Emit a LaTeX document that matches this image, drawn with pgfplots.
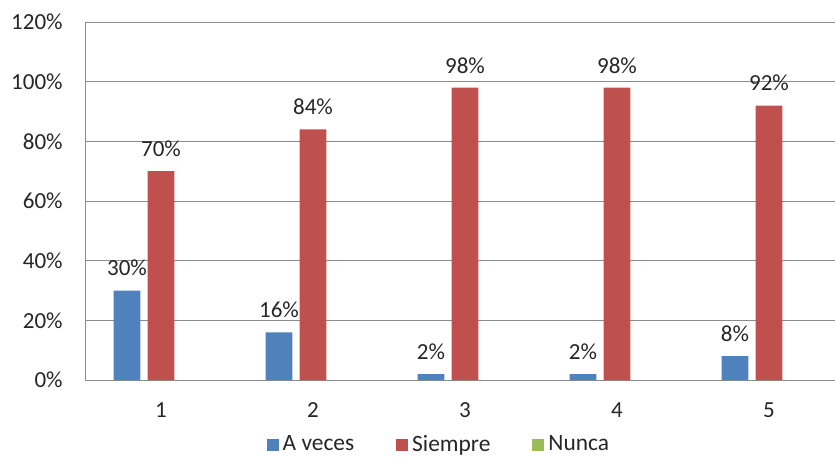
\documentclass[border=0pt]{standalone}
\usepackage{pgfplots}
\pgfplotsset{compat=1.18}
\usepackage{fontspec}
\setmainfont{Carlito}

\definecolor{aveces}{HTML}{4F81BD}
\definecolor{siempre}{HTML}{C0504D}
\definecolor{nunca}{HTML}{9BBB59}
\definecolor{gridgray}{HTML}{8C8C8C}
\definecolor{txt}{HTML}{262626}

\begin{document}
\begin{tikzpicture}
\begin{axis}[
    scale only axis,
    width=380pt, height=179pt,
    ybar=3.7pt, bar width=13.3pt,
    xmin=0.5, xmax=5.5,
    ymin=0, ymax=120,
    xtick={1,2,3,4,5}, xticklabels={1,2,3,4,5},
    ytick={0,20,40,60,80,100,120},
    yticklabels={0\%,20\%,40\%,60\%,80\%,100\%,120\%},
    major tick length=0pt,
    axis x line*=bottom, axis y line*=left,
    axis line style={-, draw=gridgray},
    ymajorgrids, grid style={draw=gridgray},
    tick label style={font=\fontsize{11.5}{13.8}\selectfont, text=txt},
    yticklabel style={anchor=east, inner sep=0pt, xshift=-11pt},
    xticklabel style={anchor=north, inner sep=0pt, yshift=-11pt},
    clip=false,
    legend style={at={(0.467,-0.181)}, anchor=center, draw=none, fill=none,
        legend columns=-1, font=\fontsize{11.7}{14}\selectfont, text=txt,
        /tikz/every even column/.append style={column sep=19pt}},
    legend image code/.code={\fill[#1] (0pt,-3pt) rectangle (6pt,3pt);},
    every node near coord/.append style={font=\fontsize{11.5}{13.8}\selectfont,
        text=txt, anchor=south, inner sep=0pt, yshift=7pt},
]
\addplot[fill=aveces, draw=none,
    nodes near coords={\pgfmathprintnumber[assume math mode=true]{\pgfplotspointmeta}\%}]
    table[x=cat, y=val] {
    cat val
    1   30
    2   16
    3   2
    4   2
    5   8
};
\addplot[fill=siempre, draw=none,
    nodes near coords={\pgfmathprintnumber[assume math mode=true]{\pgfplotspointmeta}\%}]
    table[x=cat, y=val] {
    cat val
    1   70
    2   84
    3   98
    4   98
    5   92
};
\addplot[fill=nunca, draw=none]
    table[x=cat, y=val] {
    cat val
    1   0
    2   0
    3   0
    4   0
    5   0
};
\legend{A veces, Siempre, Nunca}
\end{axis}
\pgfresetboundingbox
\path (-42.5pt,-38.5pt) rectangle (375pt,190pt);
\end{tikzpicture}
\end{document}
